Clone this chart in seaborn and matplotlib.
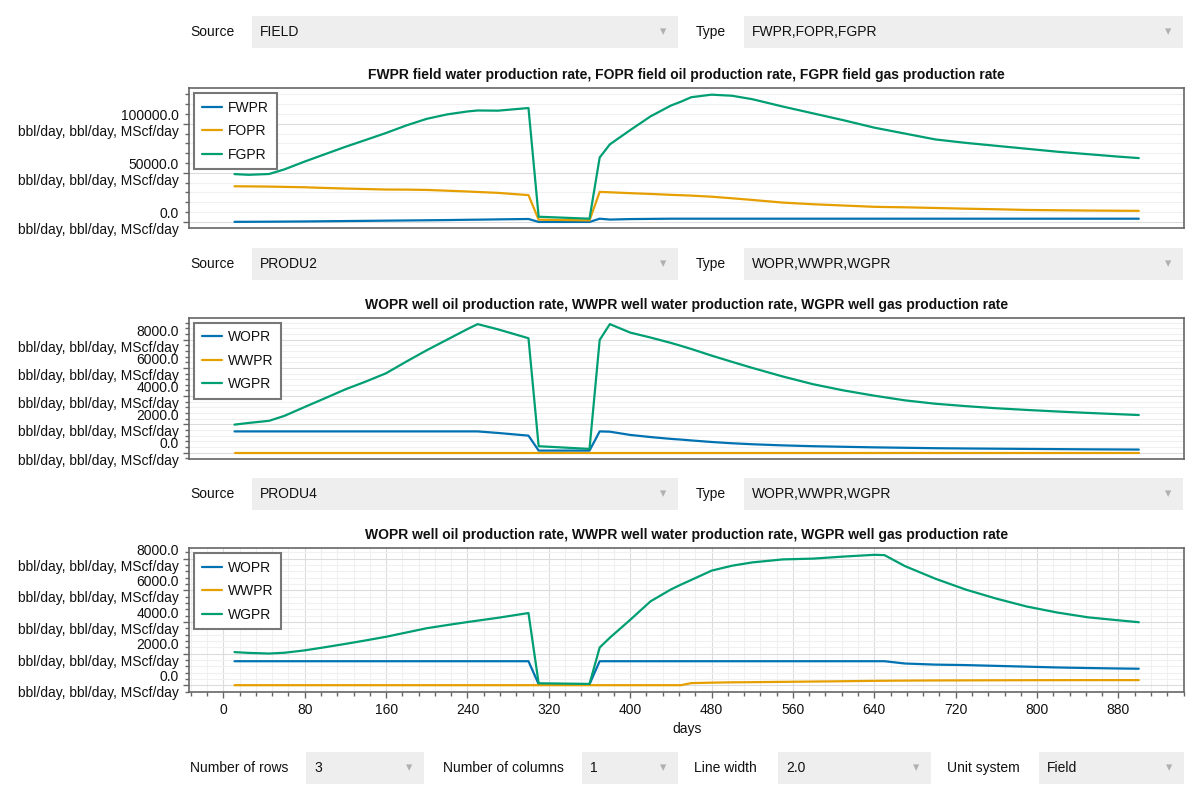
import matplotlib
matplotlib.use("Agg")
import matplotlib.pyplot as plt
from matplotlib.patches import Rectangle
from matplotlib.ticker import MultipleLocator, AutoMinorLocator, FuncFormatter
import pandas as pd
import seaborn as sns

# report times (days) shared by every vector
days = [11, 25, 45, 60, 80, 100, 120, 140, 160, 180, 200, 220, 240, 250, 270, 300,
        310, 360, 370, 380, 400, 420, 440, 450, 460, 480, 500, 520, 550, 580, 610,
        640, 650, 670, 700, 730, 760, 790, 820, 850, 880, 900]

# FIELD
fwpr = [100, 150, 250, 350, 500, 700, 900, 1100, 1300, 1500, 1700, 1900, 2200, 2300, 2600, 3000,
        0, 0, 3300, 2400, 2900, 3100, 3300, 3300, 3300, 3300, 3300, 3300, 3300, 3300, 3300,
        3300, 3300, 3300, 3300, 3300, 3300, 3300, 3300, 3300, 3300, 3300]
fopr = [36300, 36200, 36000, 35700, 35300, 34600, 34000, 33500, 33000, 32900, 32600, 31800, 31000, 30500, 29600, 27300,
        2300, 1600, 30600, 30200, 29300, 28500, 27600, 27200, 26800, 25700, 24100, 22400, 19700, 18000, 16700,
        15400, 15200, 14900, 14200, 13500, 12900, 12200, 11900, 11600, 11400, 11300]
fgpr = [48700, 48000, 48800, 53500, 61500, 69000, 76500, 83500, 90600, 98300, 105000, 109500, 112500, 113500, 113300, 116000,
        5300, 3300, 65600, 79000, 93500, 107500, 118500, 122500, 127000, 129600, 128500, 125000, 117500, 110500, 103500,
        96000, 94000, 90000, 84000, 80500, 77500, 74500, 71500, 69000, 66500, 65000]

# PRODU2
wopr_2 = [1500, 1500, 1500, 1500, 1500, 1500, 1500, 1500, 1500, 1500, 1500, 1500, 1500, 1500, 1390, 1200,
          140, 140, 1500, 1480, 1250, 1100, 970, 920, 860, 750, 660, 590, 510, 450, 410,
          370, 360, 340, 310, 290, 275, 260, 245, 230, 220, 212]
wwpr_2 = [0, 0, 0, 0, 0, 0, 0, 0, 0, 0, 0, 0, 0, 0, 0, 0,
          0, 0, 0, 0, 0, 0, 0, 0, 0, 0, 0, 0, 0, 0, 0,
          0, 0, 0, 0, 0, 0, 0, 0, 0, 0, 0]
wgpr_2 = [1980, 2100, 2250, 2600, 3230, 3850, 4480, 5030, 5620, 6450, 7250, 8000, 8750, 9100, 8730, 8100,
          450, 260, 7980, 9100, 8500, 8150, 7770, 7560, 7340, 6870, 6430, 6000, 5390, 4840, 4400,
          4030, 3920, 3700, 3460, 3290, 3140, 3020, 2910, 2810, 2720, 2660]

# PRODU4
wopr_4 = [1515, 1515, 1515, 1515, 1515, 1515, 1515, 1515, 1515, 1515, 1515, 1515, 1515, 1515, 1515, 1515,
          60, 60, 1515, 1515, 1515, 1515, 1515, 1515, 1515, 1515, 1515, 1515, 1515, 1515, 1515,
          1515, 1515, 1370, 1300, 1270, 1220, 1170, 1120, 1085, 1055, 1040]
wwpr_4 = [0, 0, 0, 0, 0, 0, 0, 0, 0, 0, 0, 0, 0, 0, 0, 0,
          0, 0, 0, 0, 0, 0, 0, 0, 130, 160, 180, 190, 210, 230, 250,
          275, 280, 290, 300, 305, 310, 315, 318, 320, 320, 320]
wgpr_4 = [2090, 2040, 2000, 2050, 2200, 2400, 2610, 2830, 3060, 3330, 3600, 3800, 3990, 4080, 4260, 4560,
          120, 80, 2380, 3000, 4130, 5300, 6050, 6360, 6650, 7240, 7550, 7760, 7950, 8000, 8130,
          8240, 8220, 7530, 6730, 6040, 5470, 4970, 4590, 4290, 4100, 3980]

UNIT = "bbl/day, bbl/day, MScf/day"
WONG = ["#0072B2", "#E69F00", "#009E73"]
W, H = 1200, 800

sns.set_theme(style="white")
plt.rcParams["font.family"] = ["Liberation Sans", "DejaVu Sans"]

fig = plt.figure(figsize=(12, 8), dpi=100)


def fx(x):
    return x / W


def fy(y):
    return 1 - y / H


def dropdown(label, lx, x0, x1, yc, value):
    fig.text(fx(lx), fy(yc), label, ha="left", va="center", fontsize=10, color="#111111")
    fig.add_artist(Rectangle((fx(x0), fy(yc + 16)), fx(x1 - x0), 32 / H,
                             transform=fig.transFigure, facecolor="#eeeeee",
                             edgecolor="none", zorder=0))
    fig.text(fx(x0 + 8), fy(yc), value, ha="left", va="center", fontsize=10, color="#111111")
    fig.text(fx(x1 - 15), fy(yc), "\u25be", ha="center", va="center", fontsize=9,
             color="#b0b0b0", family="DejaVu Sans")


panels = [
    (88.3, 228.3, "FIELD", "FWPR,FOPR,FGPR", 32,
     "FWPR field water production rate, FOPR field oil production rate, FGPR field gas production rate",
     {"FWPR": fwpr, "FOPR": fopr, "FGPR": fgpr}, 50000),
    (317.7, 459.0, "PRODU2", "WOPR,WWPR,WGPR", 264,
     "WOPR well oil production rate, WWPR well water production rate, WGPR well gas production rate",
     {"WOPR": wopr_2, "WWPR": wwpr_2, "WGPR": wgpr_2}, 2000),
    (548.3, 691.7, "PRODU4", "WOPR,WWPR,WGPR", 494,
     "WOPR well oil production rate, WWPR well water production rate, WGPR well gas production rate",
     {"WOPR": wopr_4, "WWPR": wwpr_4, "WGPR": wgpr_4}, 2000),
]

axes = []
for i, (top, bottom, source, types, yc, title, series, step) in enumerate(panels):
    dropdown("Source", 190, 252, 678, yc, source)
    dropdown("Type", 696, 744, 1183, yc, types)

    ax = fig.add_axes([fx(189.3), fy(bottom), fx(1184 - 189.3), (bottom - top) / H])
    df = pd.DataFrame({"days": days, **series}).melt("days", var_name="vector", value_name="rate")
    sns.lineplot(data=df, x="days", y="rate", hue="vector", palette=WONG,
                 linewidth=1.6, ax=ax)

    leg = ax.get_legend()
    handles = leg.legend_handles
    labels = [t.get_text() for t in leg.get_texts()]
    leg = ax.legend(handles, labels, loc="upper left", fontsize=10, frameon=True,
                    fancybox=False, framealpha=1, edgecolor="#777777",
                    handlelength=1.45, handletextpad=0.45, borderpad=0.55,
                    labelspacing=0.68, borderaxespad=0.35)
    leg.get_frame().set_linewidth(1.5)
    for t in leg.get_texts():
        t.set_color("#111111")

    ax.set_title(title, fontsize=10, fontweight="bold", pad=6.5, color="#111111")
    ax.set_xlabel("")
    ax.set_ylabel("")

    ax.yaxis.set_major_locator(MultipleLocator(step))
    ax.yaxis.set_minor_locator(AutoMinorLocator(5))
    ax.yaxis.set_major_formatter(FuncFormatter(lambda v, p: f"{v:.1f}\n{UNIT}"))
    ax.xaxis.set_major_locator(MultipleLocator(80))
    ax.xaxis.set_minor_locator(MultipleLocator(16))

    ax.set_axisbelow(True)
    grid_axis = "both" if i == 2 else "y"
    ax.grid(which="major", axis=grid_axis, color="#dcdcdc", linewidth=0.8)
    ax.grid(which="minor", axis=grid_axis, color="#f0f0f0", linewidth=0.8)

    for sp in ax.spines.values():
        sp.set_visible(True)
        sp.set_color("#666666")
        sp.set_linewidth(1.2)

    ax.tick_params(axis="y", which="both", left=True, direction="out", color="#666666",
                   width=1, labelsize=10, pad=3, labelcolor="#111111")
    ax.tick_params(axis="y", which="major", length=4.3)
    ax.tick_params(axis="y", which="minor", length=3)
    if i == 2:
        ax.tick_params(axis="x", which="both", bottom=True, direction="out", color="#666666",
                       width=1, labelsize=10, pad=3.5, labelcolor="#111111")
        ax.tick_params(axis="x", which="major", length=4.3)
        ax.tick_params(axis="x", which="minor", length=3)
        ax.set_xlabel("days", fontsize=10, labelpad=4, color="#111111")
    else:
        ax.tick_params(axis="x", which="both", bottom=False, labelbottom=False)
    axes.append(ax)

dropdown("Number of rows", 190, 306, 424, 768, "3")
dropdown("Number of columns", 443, 582, 678, 768, "1")
dropdown("Line width", 694, 778, 931, 768, "2.0")
dropdown("Unit system", 947, 1039, 1184, 768, "Field")

fig.canvas.draw()
for ax in axes:
    for lbl in ax.get_yticklabels():
        lbl.set_va("center")

fig.savefig("out.png", dpi=100)
plt.close(fig)
